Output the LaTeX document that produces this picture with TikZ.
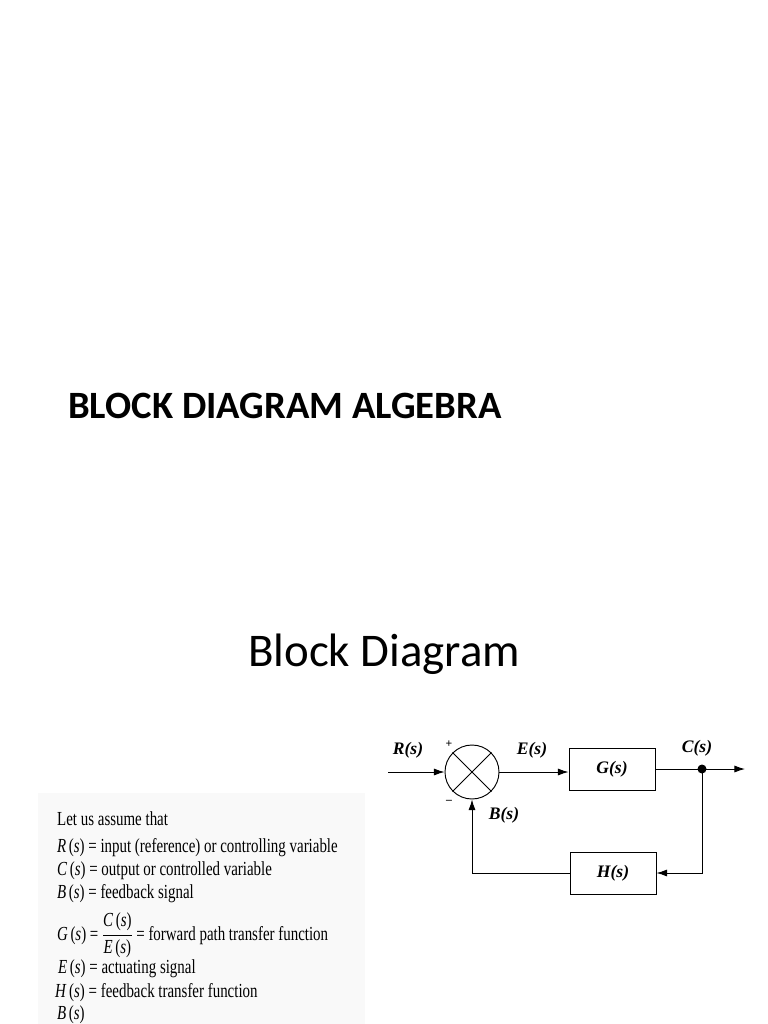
\documentclass[tikz,border=0pt]{standalone}
\usepackage{fontspec}
\setmainfont{Liberation Serif}
\newfontfamily\slidefont{Carlito}
\usetikzlibrary{positioning,arrows.meta}
\newcommand{\cond}[1]{\scalebox{0.75}[1]{#1}}
\newcommand{\sv}[1]{\textit{#1}\,(\textit{s})}

\begin{document}
\begin{tikzpicture}[x=0.03cm, y=-0.03cm,
    blk/.style={draw, thick, minimum width=2.58cm, minimum height=1.26cm},
    lbl/.style={font=\fontsize{15}{18}\selectfont\bfseries\itshape},
    sig/.style={thick, -{Latex[length=9pt,width=6pt]}},
    txt/.style={anchor=base west, inner sep=0pt, font=\fontsize{17}{20}\selectfont}]
\useasboundingbox (0,0) rectangle (768,1024);
\fill[gray!5] (38,793) rectangle (365,1024);

% titles
\node[anchor=base west, inner sep=0pt, font=\slidefont\fontsize{33}{38}\selectfont\bfseries] (title) at (68,418) {BLOCK DIAGRAM ALGEBRA};
\node[anchor=base west, inner sep=0pt, font=\slidefont\fontsize{40}{46}\selectfont] (sub) at (248,666) {Block Diagram};

% block diagram
\node[draw, thick, circle, minimum size=1.62cm] (sum) at (472,772) {};
\draw[thick] (sum.north west) -- (sum.south east);
\draw[thick] (sum.north east) -- (sum.south west);
\node[blk] (G) at (612,769) {};
\node[lbl] at (G) {G(s)};
\node[blk] (H) at (613,873) {};
\node[lbl] at (H) {H(s)};
\coordinate (in) at (388,772);
\fill (702,769) circle (4.5) coordinate (dot);
\coordinate (out) at (745,769);
\coordinate (corner) at (702,873);
\coordinate (back) at (472,873);

\draw[sig] (in) -- (sum.west);
\draw[sig] (sum.east) -- (sum.east -| G.west);
\draw[thick] (G.east) -- (G.east -| dot);
\draw[sig] (dot) -- (out);
\draw[sig] (dot) -- (corner) -- (H.east);
\draw[sig] (H.west) -- (back) -- (sum.south);

\node[lbl] (r) at (408,750) {R(s)};
\node[lbl] (e) at (532,750) {E(s)};
\node[lbl] (c) at (697,748) {C(s)};
\node[lbl] (b) at (504,815) {B(s)};
\node[font=\bfseries] (plus) at (449,744) {+};
\node[font=\bfseries] (minus) at (449,802) {--};

% definitions
\node[txt] (l0) at (57,825) {\cond{Let us assume that}};
\node[txt] (l1) at (57,852) {\cond{\sv{R} = input (reference) or controlling variable}};
\node[txt] (l2) at (57,875) {\cond{\sv{C} = output or controlled variable}};
\node[txt] (l3) at (57,898) {\cond{\sv{B} = feedback signal}};
\node[txt] (l4) at (57,940) {\cond{\sv{G} = $\displaystyle\frac{\mbox{\sv{C}}}{\mbox{\sv{E}}}$ = forward path transfer function}};
\node[txt] (l5) at (58,973) {\cond{\sv{E} = actuating signal}};
\node[txt] (l6) at (55,997) {\cond{\sv{H} = feedback transfer function}};
\node[txt] (l7) at (57,1019) {\cond{\sv{B}}};
\end{tikzpicture}
\end{document}
